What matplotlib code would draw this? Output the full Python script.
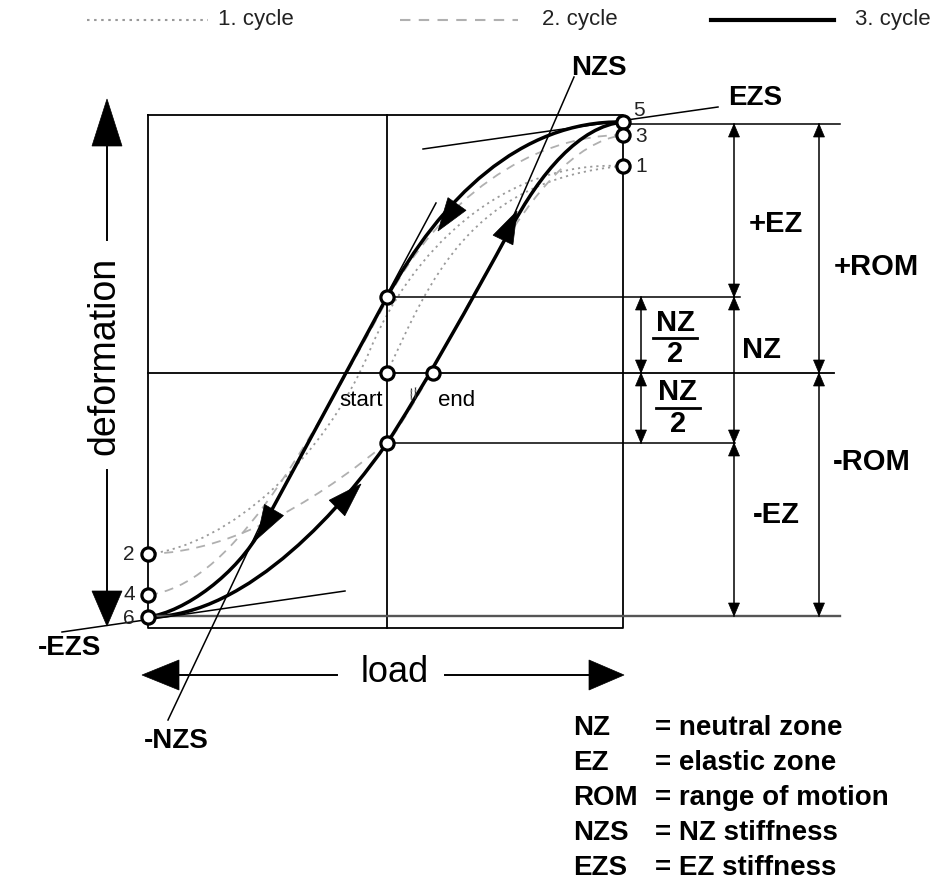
import matplotlib
matplotlib.use('Agg')
import matplotlib.pyplot as plt
from matplotlib.path import Path
from matplotlib.patches import PathPatch, Polygon
import numpy as np

plt.rcParams['font.family'] = ['Liberation Sans', 'DejaVu Sans']

# ---------------- schematic data (pixel units of the drawing) ----------------
W, H = 945, 882
box_x = [148, 623]
box_y = [115, 628]
center_x, center_y = 387, 373
nz_top, nz_bot = 297, 443
rom_top, rom_bot = 124, 616

cycle_labels = ['5', '3', '1', '2', '4', '6']
cycle_x = [623, 623, 623, 148, 148, 148]
cycle_y = [122, 135, 166, 554, 595, 617]
cycle_lbl_x = [639, 641, 641, 129, 129, 129]
cycle_lbl_y = [111, 137, 167, 555, 595, 619]

mark_x = [387, 387, 433, 387]          # NZ top, start, end, NZ bottom
mark_y = [297, 373, 373, 443]

# curves: start point followed by ('C', c1, c2, p) bezier or ('L', p) segments
unload_3 = [(623, 122), ('C', (520, 120), (440, 200), (387, 297)),
            ('L', (262, 528)), ('C', (237, 574), (185, 612), (148, 617))]
load_3 = [(148, 617), ('C', (250, 617), (347, 501), (387, 443)),
          ('C', (417, 398), (475, 295), (510, 230)),
          ('C', (540, 173), (580, 126), (623, 122))]
load_1 = [(387, 373), ('C', (430, 280), (470, 180), (623, 166))]
unload_1 = [(623, 166), ('C', (500, 160), (410, 254), (370, 350)),
            ('C', (325, 458), (230, 545), (148, 554))]
load_2 = [(148, 554), ('C', (240, 552), (330, 490), (390, 440)),
          ('C', (460, 340), (525, 150), (623, 135))]
unload_2 = [(623, 135), ('C', (530, 135), (440, 200), (387, 300)),
            ('C', (300, 460), (230, 585), (148, 595))]

# curve arrowheads: tip, base centre
curve_arrow_tips = [(438, 231), (517, 211), (257, 539), (361, 484)]
curve_arrow_bases = [(457, 204), (503, 240), (274, 510), (337, 508)]

# stiffness tangent lines
tangents = {
    'NZS': [(574, 77), (510, 224)],
    'NZS2': [(436, 203), (384, 300)],
    'EZS': [(423, 149), (718, 107)],
    '-EZS': [(62, 632), (345, 591)],
    '-NZS': [(266, 513), (168, 720)],
}

# dimension arrows: x, y_from, y_to
dim_arrows = [(734, rom_top, nz_top), (734, nz_top, nz_bot), (734, nz_bot, rom_bot),
              (641, nz_top, center_y), (641, center_y, nz_bot),
              (819, rom_top, center_y), (819, center_y, rom_bot)]

dim_labels = ['+EZ', '+ROM', 'NZ', '-ROM', '-EZ']
dim_label_x = [776, 876, 762, 872, 776]
dim_label_y = [224, 267, 350, 462, 515]

legend_names = ['1. cycle', '2. cycle', '3. cycle']
legend_line_x = [(87, 208), (400, 518), (711, 834)]
legend_text_x = [218, 542, 855]

abbr = ['NZ', 'EZ', 'ROM', 'NZS', 'EZS']
abbr_meaning = ['= neutral zone', '= elastic zone', '= range of motion',
                '= NZ stiffness', '= EZ stiffness']
abbr_y = [728, 763, 798, 833, 868]

# ---------------- drawing ----------------
fig = plt.figure(figsize=(9.45, 8.82), dpi=100)
ax = fig.add_axes([0, 0, 1, 1])
ax.set_xlim(0, W)
ax.set_ylim(H, 0)
ax.axis('off')

K = 'black'
GRAY = '#9a9a9a'


def bez(nodes, **kw):
    verts = [nodes[0]]
    codes = [Path.MOVETO]
    for seg in nodes[1:]:
        if seg[0] == 'C':
            verts += [seg[1], seg[2], seg[3]]
            codes += [Path.CURVE4] * 3
        else:
            verts.append(seg[1])
            codes.append(Path.LINETO)
    p = PathPatch(Path(verts, codes), fill=False, **kw)
    ax.add_patch(p)


def head(tip, base, hw, **kw):
    tip = np.array(tip, float)
    base = np.array(base, float)
    d = tip - base
    n = np.array([-d[1], d[0]]) / np.hypot(*d)
    pts = [tip, base + n * hw, base - n * hw]
    ax.add_patch(Polygon(pts, closed=True, facecolor=K, edgecolor=K, lw=0.5, **kw))


# box and grid lines
ax.plot([box_x[0], box_x[1], box_x[1], box_x[0], box_x[0]],
        [box_y[0], box_y[0], box_y[1], box_y[1], box_y[0]], color=K, lw=1.3)
ax.plot([center_x, center_x], box_y, color=K, lw=1.3)
ax.plot([box_x[0], 834], [center_y, center_y], color=K, lw=1.3)
ax.plot([center_x, 740], [nz_top, nz_top], color=K, lw=1.1)
ax.plot([center_x, 735], [nz_bot, nz_bot], color=K, lw=1.1)
ax.plot([box_x[1], 840], [rom_top, rom_top], color=K, lw=1.1)
ax.plot([box_x[0], 840], [rom_bot, rom_bot], color='#555555', lw=1.7)

# cycles
bez(load_1, edgecolor=GRAY, lw=1.3, linestyle=(0, (1.2, 2.2)))
bez(unload_1, edgecolor=GRAY, lw=1.3, linestyle=(0, (1.2, 2.2)))
bez(load_2, edgecolor='#b0b0b0', lw=1.3, linestyle=(0, (5, 4)))
bez(unload_2, edgecolor='#b0b0b0', lw=1.3, linestyle=(0, (5, 4)))
bez(unload_3, edgecolor=K, lw=2.5)
bez(load_3, edgecolor=K, lw=2.5)

for t, b in zip(curve_arrow_tips, curve_arrow_bases):
    head(t, b, 11, zorder=4)

# tangents
for pts in tangents.values():
    ax.plot([pts[0][0], pts[1][0]], [pts[0][1], pts[1][1]], color=K, lw=1.1)

# dimension arrows
for x, y0, y1 in dim_arrows:
    ax.plot([x, x], [y0, y1], color=K, lw=1.1)
    head((x, y0), (x, y0 + 13), 5.5)
    head((x, y1), (x, y1 - 13), 5.5)

# markers
ax.plot(cycle_x, cycle_y, 'o', ms=9.5, mfc='white', mec=K, mew=2.3, zorder=6)
ax.plot(mark_x, mark_y, 'o', ms=9.5, mfc='white', mec=K, mew=2.3, zorder=6)
for s, x, y in zip(cycle_labels, cycle_lbl_x, cycle_lbl_y):
    ax.text(x, y, s, fontsize=15, ha='center', va='center', color='#222222')

# axis arrows
ax.plot([178, 337], [675, 675], color=K, lw=1.4)
ax.plot([445, 590], [675, 675], color=K, lw=1.4)
head((142, 675), (179, 675), 15)
head((624, 675), (589, 675), 15)
ax.text(395, 672, 'load', fontsize=26, ha='center', va='center')

ax.plot([107, 107], [145, 240], color=K, lw=1.4)
ax.plot([107, 107], [470, 592], color=K, lw=1.4)
head((107, 99), (107, 146), 15)
head((107, 626), (107, 591), 15)
ax.text(104, 356, 'deformation', fontsize=27, rotation=90, ha='center', va='center')

# start / end
ax.text(361, 400, 'start', fontsize=16, ha='center', va='center')
ax.text(457, 400, 'end', fontsize=16, ha='center', va='center')
ax.text(414, 395, '//', fontsize=11, ha='center', va='center', color='#333333', rotation=15)

# stiffness labels
B = dict(fontweight='bold', ha='center', va='center')
ax.text(599, 68, 'NZS', fontsize=20, **B)
ax.text(755, 98, 'EZS', fontsize=20, **B)
ax.text(70, 648, '-EZS', fontsize=20, **B)
ax.text(176, 741, '-NZS', fontsize=20, **B)

for s, x, y in zip(dim_labels, dim_label_x, dim_label_y):
    ax.text(x, y, s, fontsize=21, **B)

# NZ/2 fractions
for cx, ytop, ybar, ybot in [(675, 323, 338, 354), (678, 392, 408, 424)]:
    ax.text(cx, ytop, 'NZ', fontsize=21, **B)
    ax.plot([cx - 22, cx + 22], [ybar, ybar], color=K, lw=2)
    ax.text(cx, ybot, '2', fontsize=21, **B)

# legend of cycles
styles = [dict(color='#999999', lw=1.5, linestyle=(0, (1.2, 2.2))),
          dict(color='#b0b0b0', lw=1.5, linestyle=(0, (5, 4))),
          dict(color=K, lw=3.0)]
for name, (x0, x1), tx, st in zip(legend_names, legend_line_x, legend_text_x, styles):
    ax.plot([x0, x1], [20, 20], **st)
    ax.text(tx, 20, name, fontsize=16, ha='left', va='center', color='#222222')

# abbreviation legend
for a, m, y in zip(abbr, abbr_meaning, abbr_y):
    ax.text(573, y, a, fontsize=20, fontweight='bold', ha='left', va='center')
    ax.text(655, y, m, fontsize=20, fontweight='bold', ha='left', va='center')

fig.savefig('out.png', dpi=100)
